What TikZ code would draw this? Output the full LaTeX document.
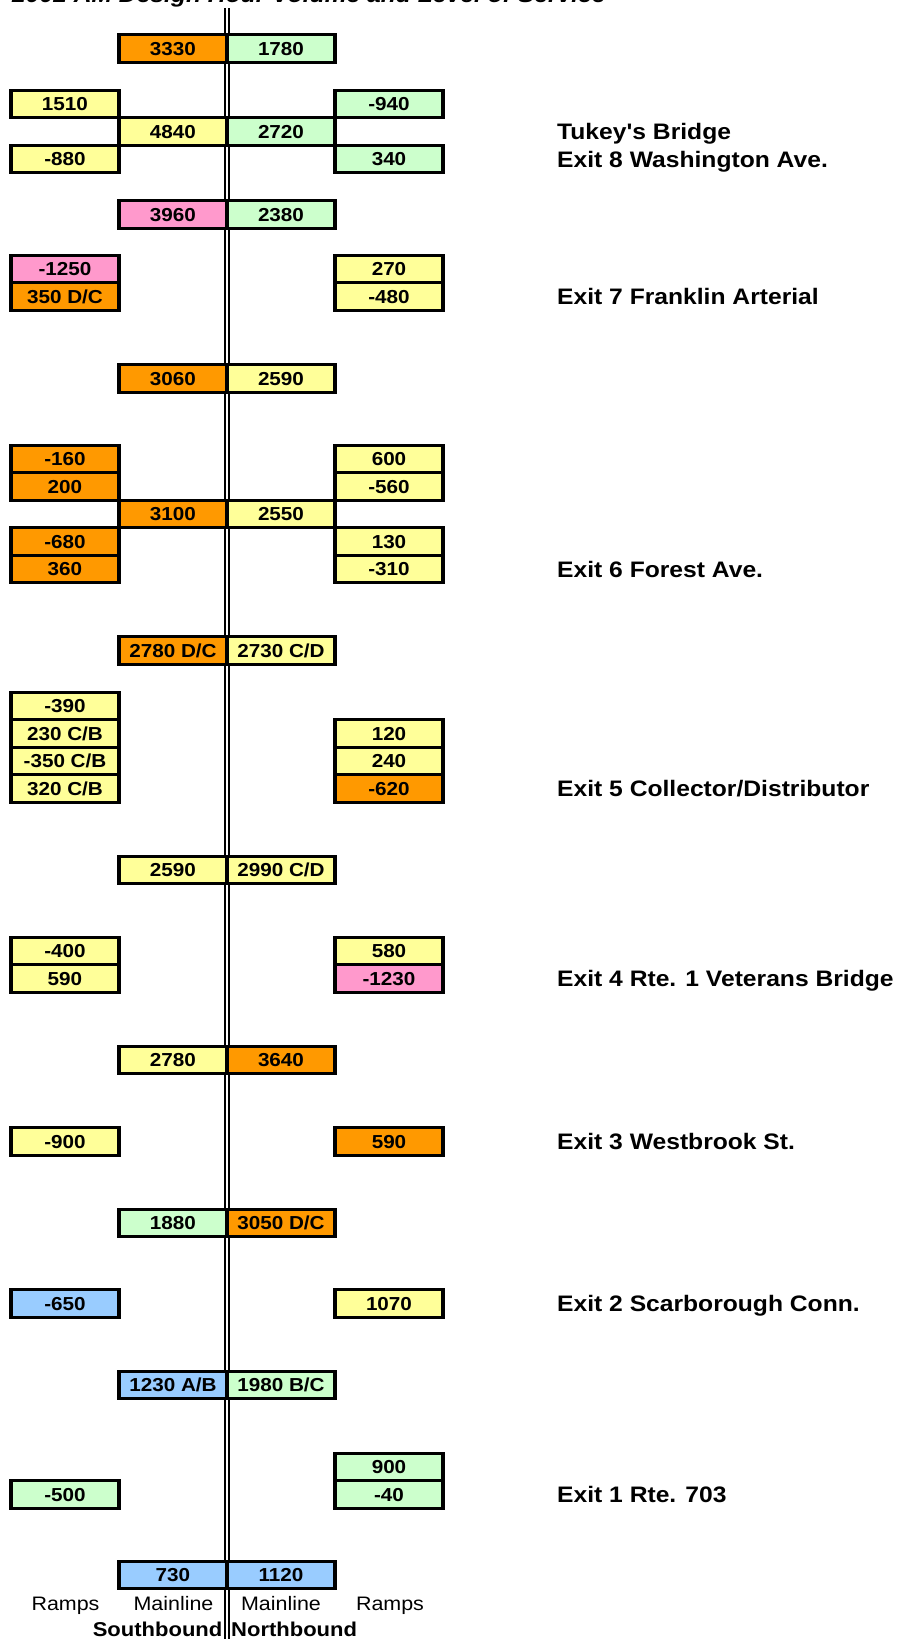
\documentclass[tikz,border=0pt]{standalone}
\usepackage{fontspec}
\setmainfont[FakeStretch=1.1, Ligatures=TeXOff]{Liberation Sans}
\definecolor{orng}{HTML}{FF9900}
\definecolor{grn}{HTML}{CCFFCC}
\definecolor{ylw}{HTML}{FFFF99}
\definecolor{pnk}{HTML}{FF99CC}
\definecolor{blu}{HTML}{99CCFF}
\tikzset{
  cellbox/.style={draw=black, line width=3.4pt, minimum width=108pt, minimum height=27.5pt,
    inner sep=0pt, text height=13.3pt, text depth=0pt,
    font=\fontsize{18.8}{20}\selectfont\bfseries},
  exitlabel/.style={anchor=west, inner sep=0pt, text height=16pt, text depth=0pt,
    font=\fontsize{22.4}{24}\selectfont\bfseries},
  collabel/.style={inner sep=0pt, text height=14pt, text depth=0pt,
    font=\fontsize{19.5}{21}\selectfont},
  dirlabel/.style={inner sep=0pt, text height=14.8pt, text depth=0pt,
    font=\fontsize{20}{22}\selectfont\bfseries},
  roadline/.style={line width=2pt, double=white, double distance=2pt, draw=black}
}
\begin{document}
\begin{tikzpicture}[x=1pt,y=-1pt]
\path[use as bounding box] (0,0) rectangle (903,1639);
\clip (0,0) rectangle (903,1639);
\fill[white] (0,0) rectangle (903,1639);
% title (cut off at the top edge)
\node[anchor=base west, inner sep=0pt, font=\fontsize{22.4}{24}\selectfont\bfseries\itshape] (title) at (12,2.5) {2002 AM Design Hour Volume and Level of Service};
% road centre line
\coordinate (ltop) at (227,8);
\coordinate (lbot) at (227,1645);
\draw[roadline] (ltop) -- (lbot);
% --- Tukey's Bridge / Exit 8
\node[cellbox, fill=orng] (m1l) at (173,48.5) {3330};
\node[cellbox, fill=grn]  (m1r) at (281,48.5) {1780};
\node[cellbox, fill=ylw]  (r8a) at (65,104) {1510};
\node[cellbox, fill=grn]  (r8b) at (389,104) {-940};
\node[cellbox, fill=ylw]  (m2l) at (173,131.5) {4840};
\node[cellbox, fill=grn]  (m2r) at (281,131.5) {2720};
\node[cellbox, fill=ylw]  (r8c) at (65,159) {-880};
\node[cellbox, fill=grn]  (r8d) at (389,159) {340};
\node[exitlabel] (x8a) at (557,131.5) {Tukey's Bridge};
\node[exitlabel] (x8b) at (557,159) {Exit 8 Washington Ave.};
% --- Exit 7
\node[cellbox, fill=pnk]  (m3l) at (173,214.5) {3960};
\node[cellbox, fill=grn]  (m3r) at (281,214.5) {2380};
\node[cellbox, fill=pnk]  (r7a) at (65,269) {-1250};
\node[cellbox, fill=orng] (r7b) at (65,296.5) {350 D/C};
\node[cellbox, fill=ylw]  (r7c) at (389,269) {270};
\node[cellbox, fill=ylw]  (r7d) at (389,296.5) {-480};
\node[exitlabel] (x7) at (557,296.5) {Exit 7 Franklin Arterial};
% --- Exit 6
\node[cellbox, fill=orng] (m4l) at (173,378.5) {3060};
\node[cellbox, fill=ylw]  (m4r) at (281,378.5) {2590};
\node[cellbox, fill=orng] (r6a) at (65,459) {-160};
\node[cellbox, fill=orng] (r6b) at (65,486.5) {200};
\node[cellbox, fill=ylw]  (r6c) at (389,459) {600};
\node[cellbox, fill=ylw]  (r6d) at (389,486.5) {-560};
\node[cellbox, fill=orng] (m5l) at (173,514) {3100};
\node[cellbox, fill=ylw]  (m5r) at (281,514) {2550};
\node[cellbox, fill=orng] (r6e) at (65,541.5) {-680};
\node[cellbox, fill=orng] (r6f) at (65,569) {360};
\node[cellbox, fill=ylw]  (r6g) at (389,541.5) {130};
\node[cellbox, fill=ylw]  (r6h) at (389,569) {-310};
\node[exitlabel] (x6) at (557,569) {Exit 6 Forest Ave.};
% --- Exit 5
\node[cellbox, fill=orng] (m6l) at (173,650.5) {2780 D/C};
\node[cellbox, fill=ylw]  (m6r) at (281,650.5) {2730 C/D};
\node[cellbox, fill=ylw]  (r5a) at (65,706) {-390};
\node[cellbox, fill=ylw]  (r5b) at (65,733.5) {230 C/B};
\node[cellbox, fill=ylw]  (r5c) at (65,761) {-350 C/B};
\node[cellbox, fill=ylw]  (r5d) at (65,788.5) {320 C/B};
\node[cellbox, fill=ylw]  (r5e) at (389,733.5) {120};
\node[cellbox, fill=ylw]  (r5f) at (389,761) {240};
\node[cellbox, fill=orng] (r5g) at (389,788.5) {-620};
\node[exitlabel] (x5) at (557,788.5) {Exit 5 Collector/Distributor};
% --- Exit 4
\node[cellbox, fill=ylw]  (m7l) at (173,870) {2590};
\node[cellbox, fill=ylw]  (m7r) at (281,870) {2990 C/D};
\node[cellbox, fill=ylw]  (r4a) at (65,951) {-400};
\node[cellbox, fill=ylw]  (r4b) at (65,978.5) {590};
\node[cellbox, fill=ylw]  (r4c) at (389,951) {580};
\node[cellbox, fill=pnk]  (r4d) at (389,978.5) {-1230};
\node[exitlabel] (x4) at (557,978.5) {Exit 4 Rte. 1 Veterans Bridge};
% --- Exit 3
\node[cellbox, fill=ylw]  (m8l) at (173,1060) {2780};
\node[cellbox, fill=orng] (m8r) at (281,1060) {3640};
\node[cellbox, fill=ylw]  (r3a) at (65,1141.5) {-900};
\node[cellbox, fill=orng] (r3b) at (389,1141.5) {590};
\node[exitlabel] (x3) at (557,1141.5) {Exit 3 Westbrook St.};
% --- Exit 2
\node[cellbox, fill=grn]  (m9l) at (173,1223) {1880};
\node[cellbox, fill=orng] (m9r) at (281,1223) {3050 D/C};
\node[cellbox, fill=blu]  (r2a) at (65,1303.5) {-650};
\node[cellbox, fill=ylw]  (r2b) at (389,1303.5) {1070};
\node[exitlabel] (x2) at (557,1303.5) {Exit 2 Scarborough Conn.};
% --- Exit 1
\node[cellbox, fill=blu]  (m10l) at (173,1385) {1230 A/B};
\node[cellbox, fill=grn]  (m10r) at (281,1385) {1980 B/C};
\node[cellbox, fill=grn]  (r1a) at (389,1467) {900};
\node[cellbox, fill=grn]  (r1b) at (389,1494.5) {-40};
\node[cellbox, fill=grn]  (r1c) at (65,1494.5) {-500};
\node[exitlabel] (x1) at (557,1494.5) {Exit 1 Rte. 703};
% --- bottom
\node[cellbox, fill=blu]  (m11l) at (173,1575) {730};
\node[cellbox, fill=blu]  (m11r) at (281,1575) {1120};
\node[collabel] (c1) at (65.5,1603) {Ramps};
\node[collabel] (c2) at (173.5,1603) {Mainline};
\node[collabel] (c3) at (281,1603) {Mainline};
\node[collabel] (c4) at (390,1603) {Ramps};
\node[dirlabel, anchor=east] (sb) at (222.5,1629) {Southbound};
\node[dirlabel, anchor=west] (nb) at (231,1629) {Northbound};
\end{tikzpicture}
\end{document}
